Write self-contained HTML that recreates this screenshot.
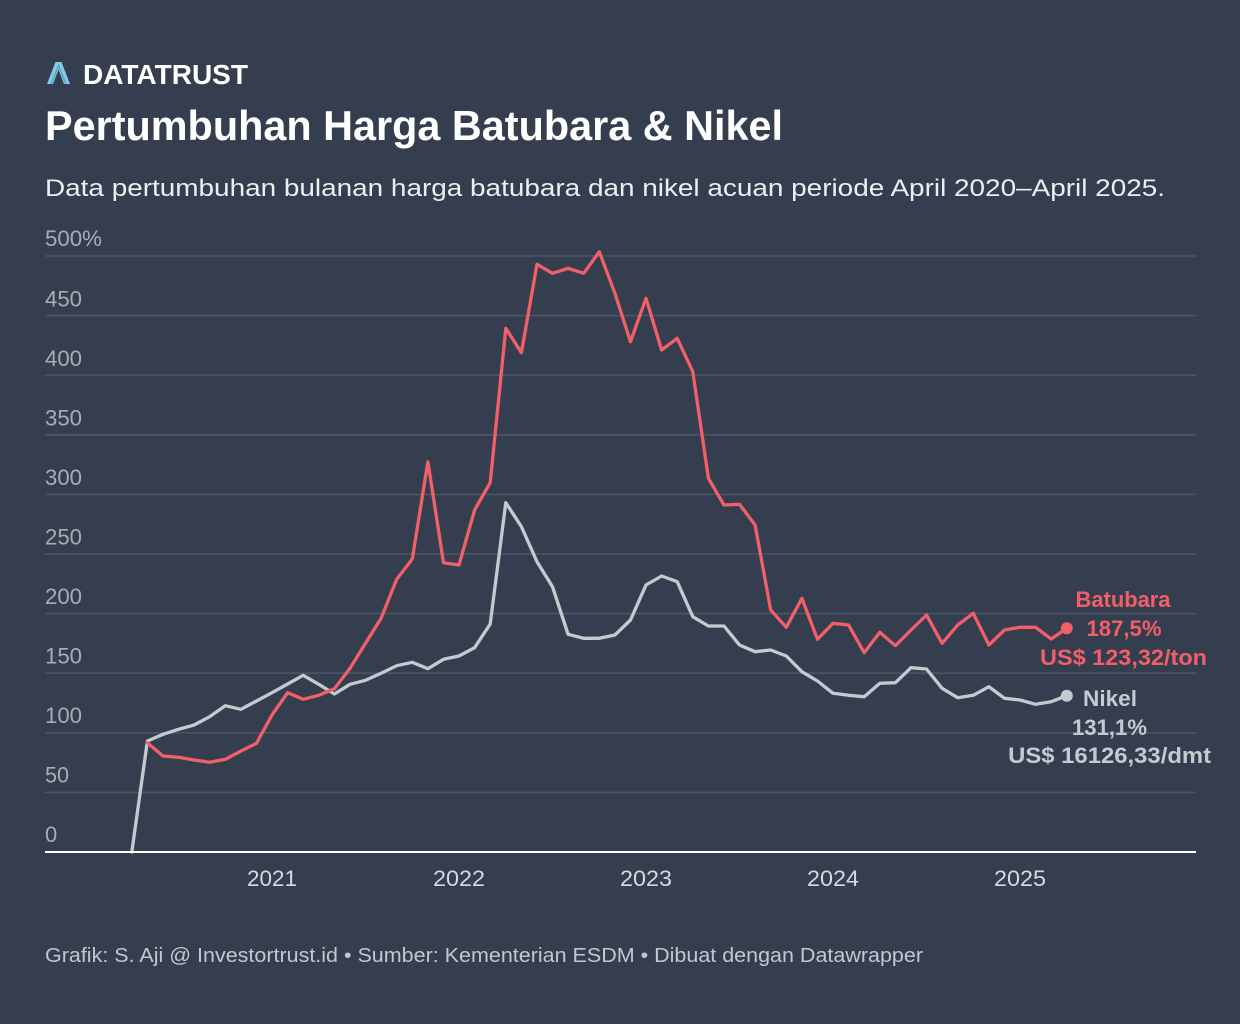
<!DOCTYPE html>
<html>
<head>
<meta charset="utf-8">
<style>
  html, body { margin:0; padding:0; background:#343e4f; }
  body { width:1240px; height:1024px; overflow:hidden; }
  svg { display:block; }
  text { font-family: "Liberation Sans", sans-serif; }
</style>
</head>
<body>
<svg width="1240" height="1024" viewBox="0 0 1240 1024" xmlns="http://www.w3.org/2000/svg">
  <rect x="0" y="0" width="1240" height="1024" fill="#343e4f"/>

  <!-- Logo -->
  <polygon points="47,84 55.5,62 61.5,62 70,84 64,84 58.5,69.5 53,84" fill="#86c8e6"/>
  <polyline points="51,84 58.5,65.5 66,84" fill="none" stroke="#5aa3cb" stroke-width="1.4"/>
  <text x="83" y="84" font-size="28" font-weight="bold" fill="#ffffff" textLength="165" lengthAdjust="spacingAndGlyphs">DATATRUST</text>

  <!-- Title -->
  <text x="45" y="140" font-size="42" font-weight="bold" fill="#ffffff" textLength="738" lengthAdjust="spacingAndGlyphs">Pertumbuhan Harga Batubara &amp; Nikel</text>

  <!-- Subtitle -->
  <text x="45" y="196" font-size="24" fill="#eceef1" textLength="1120" lengthAdjust="spacingAndGlyphs">Data pertumbuhan bulanan harga batubara dan nikel acuan periode April 2020–April 2025.</text>

  <!-- Gridlines -->
  <g stroke="#4b5565" stroke-width="1.6">
    <line x1="45" x2="1196" y1="256" y2="256"/>
    <line x1="45" x2="1196" y1="315.6" y2="315.6"/>
    <line x1="45" x2="1196" y1="375.2" y2="375.2"/>
    <line x1="45" x2="1196" y1="434.8" y2="434.8"/>
    <line x1="45" x2="1196" y1="494.4" y2="494.4"/>
    <line x1="45" x2="1196" y1="554" y2="554"/>
    <line x1="45" x2="1196" y1="613.6" y2="613.6"/>
    <line x1="45" x2="1196" y1="673.2" y2="673.2"/>
    <line x1="45" x2="1196" y1="732.8" y2="732.8"/>
    <line x1="45" x2="1196" y1="792.4" y2="792.4"/>
  </g>

  <!-- Y labels -->
  <g font-size="22" fill="#a7adb5">
    <text x="45" y="246" textLength="57" lengthAdjust="spacingAndGlyphs">500%</text>
    <text x="45" y="306.5" textLength="37" lengthAdjust="spacingAndGlyphs">450</text>
    <text x="45" y="366" textLength="37" lengthAdjust="spacingAndGlyphs">400</text>
    <text x="45" y="425.5" textLength="37" lengthAdjust="spacingAndGlyphs">350</text>
    <text x="45" y="485" textLength="37" lengthAdjust="spacingAndGlyphs">300</text>
    <text x="45" y="544.5" textLength="37" lengthAdjust="spacingAndGlyphs">250</text>
    <text x="45" y="604" textLength="37" lengthAdjust="spacingAndGlyphs">200</text>
    <text x="45" y="663.5" textLength="37" lengthAdjust="spacingAndGlyphs">150</text>
    <text x="45" y="723" textLength="37" lengthAdjust="spacingAndGlyphs">100</text>
    <text x="45" y="782.5" textLength="24" lengthAdjust="spacingAndGlyphs">50</text>
    <text x="45" y="842">0</text>
  </g>

  <!-- Nikel line -->
  <polyline fill="none" stroke="#c4cbd0" stroke-width="3.3" stroke-linejoin="round" stroke-linecap="round"
    points="131.8,852 147.4,741 163.0,734.3 178.5,729.3 194.1,725 209.7,716.7 225.3,705.7 240.9,709.3 256.5,701 272.0,692.7 287.6,684 303.2,675.3 318.8,684.3 334.4,694 350.0,684.3 365.5,680.3 381.1,673.3 396.7,665.7 412.3,662.3 427.9,668.7 443.5,659.3 459.0,656 474.6,647.7 490.2,624 505.8,502.7 521.4,526.7 537.0,561.7 552.5,586.7 568.1,634.3 583.7,638.3 599.3,638.3 614.9,635 630.5,620 646.0,585 661.6,576 677.2,581.7 692.8,616.7 708.4,626 724.0,626 739.5,645 755.1,651.7 770.7,650 786.3,656 801.9,671.7 817.5,681 833.0,693.3 848.6,695.3 864.2,696.7 879.8,683.3 895.4,682.7 911.0,667.7 926.5,669 942.1,688.3 957.7,697.7 973.3,695.3 988.9,686.7 1004.5,698.3 1020.0,700 1035.6,704.3 1051.2,701.7 1066.8,695.7"/>

  <!-- Batubara line -->
  <polyline fill="none" stroke="#f25f69" stroke-width="3.3" stroke-linejoin="round" stroke-linecap="round"
    points="147.4,742.7 163.0,756 178.5,757.3 194.1,760 209.7,762.3 225.3,759.3 240.9,751 256.5,743.3 272.0,715 287.6,692.7 303.2,699.3 318.8,695.3 334.4,688.7 350.0,668.3 365.5,643.3 381.1,618.3 396.7,579.3 412.3,559 427.9,461.7 443.5,562.7 459.0,565 474.6,510 490.2,482.7 505.8,328.3 521.4,352.7 537.0,264.3 552.5,273.3 568.1,268.3 583.7,273.3 599.3,251.7 614.9,293.3 630.5,341.7 646.0,298.3 661.6,350 677.2,338.3 692.8,371.7 708.4,478.3 724.0,505 739.5,504.3 755.1,525 770.7,610 786.3,627.3 801.9,598.3 817.5,639.3 833.0,623.3 848.6,625 864.2,652.7 879.8,632.3 895.4,645.7 911.0,630 926.5,615 942.1,643.3 957.7,625 973.3,613.3 988.9,645 1004.5,630 1020.0,627.3 1035.6,627.3 1051.2,639 1066.8,628.3"/>

  <!-- End dots -->
  <circle cx="1066.8" cy="628.3" r="6" fill="#f25f69"/>
  <circle cx="1066.8" cy="695.7" r="6" fill="#c4cbd0"/>

  <!-- Axis baseline -->
  <line x1="45" x2="1196" y1="852" y2="852" stroke="#ffffff" stroke-width="2"/>

  <!-- X labels -->
  <g font-size="22" fill="#d6d9dd" text-anchor="middle">
    <text x="272" y="886" textLength="50" lengthAdjust="spacingAndGlyphs">2021</text>
    <text x="459" y="886" textLength="52" lengthAdjust="spacingAndGlyphs">2022</text>
    <text x="646" y="886" textLength="52" lengthAdjust="spacingAndGlyphs">2023</text>
    <text x="833" y="886" textLength="52" lengthAdjust="spacingAndGlyphs">2024</text>
    <text x="1020" y="886" textLength="52" lengthAdjust="spacingAndGlyphs">2025</text>
  </g>

  <!-- Annotations -->
  <g font-size="22" font-weight="bold" fill="#f25f69" text-anchor="middle">
    <text x="1123" y="607" textLength="95" lengthAdjust="spacingAndGlyphs">Batubara</text>
    <text x="1124" y="636" textLength="75" lengthAdjust="spacingAndGlyphs">187,5%</text>
    <text x="1123.5" y="665" textLength="167" lengthAdjust="spacingAndGlyphs">US$ 123,32/ton</text>
  </g>
  <g font-size="22" font-weight="bold" fill="#c4cbd0" text-anchor="middle">
    <text x="1110" y="706" textLength="54" lengthAdjust="spacingAndGlyphs">Nikel</text>
    <text x="1109.5" y="735" textLength="75" lengthAdjust="spacingAndGlyphs">131,1%</text>
    <text x="1109.6" y="763" textLength="203" lengthAdjust="spacingAndGlyphs">US$ 16126,33/dmt</text>
  </g>

  <!-- Footer -->
  <text x="45" y="962" font-size="20" fill="#c3c7cd" textLength="878" lengthAdjust="spacingAndGlyphs">Grafik: S. Aji @ Investortrust.id • Sumber: Kementerian ESDM • Dibuat dengan Datawrapper</text>
</svg>
</body>
</html>
